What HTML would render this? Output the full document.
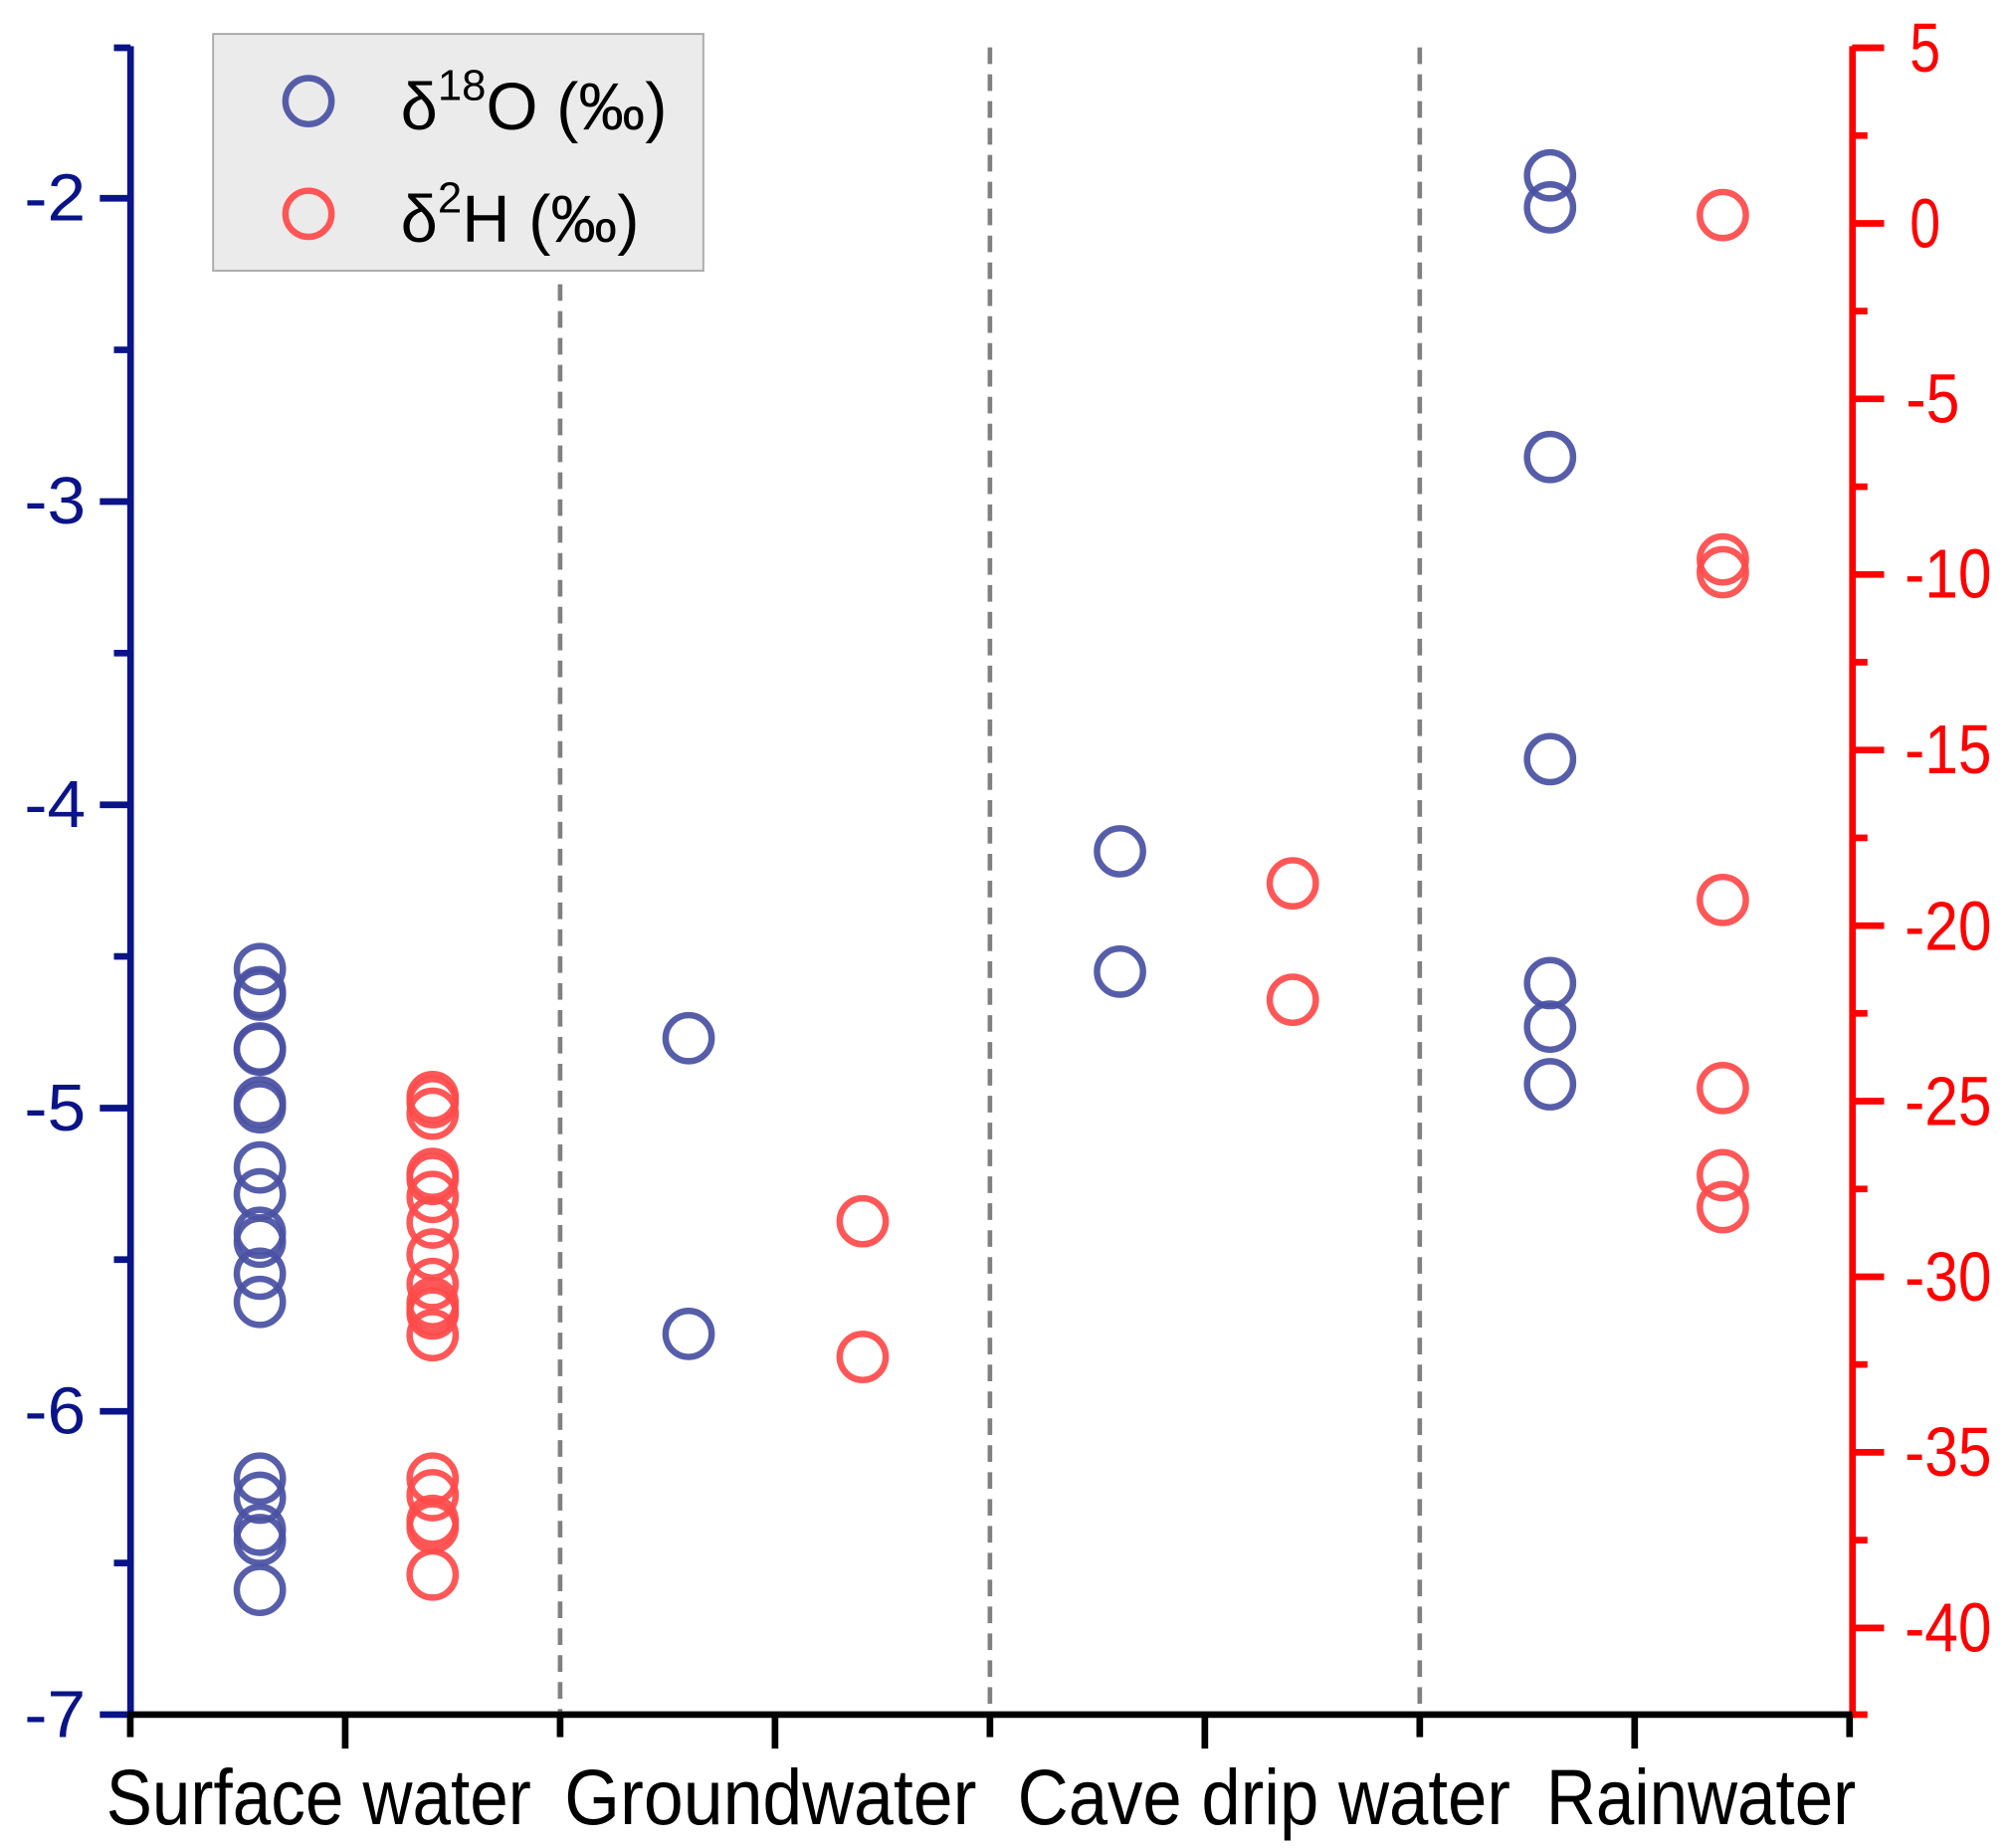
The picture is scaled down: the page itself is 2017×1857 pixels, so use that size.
<!DOCTYPE html>
<html><head><meta charset="utf-8"><style>html,body{margin:0;padding:0;background:#fff}svg{display:block}</style></head>
<body>
<svg width="2017" height="1857" viewBox="0 0 1568 1443.6" xmlns="http://www.w3.org/2000/svg" font-family="Liberation Sans, Arial, sans-serif">
<rect width="1568" height="1443.6" fill="#fff"/>
<g stroke="#808080" stroke-width="3.6" stroke-dasharray="13,8">
<line x1="437.6" y1="222" x2="437.6" y2="1337"/>
<line x1="773.4" y1="37" x2="773.4" y2="1337"/>
<line x1="1109.2" y1="37" x2="1109.2" y2="1337"/>
</g>
<!-- left axis -->
<g stroke="#0a1488" stroke-width="5.2">
<line x1="102" y1="36" x2="102" y2="1342"/>
<line x1="78" y1="1339.4" x2="102" y2="1339.4"/><line x1="78" y1="1102.5" x2="102" y2="1102.5"/><line x1="78" y1="865.6" x2="102" y2="865.6"/><line x1="78" y1="628.7" x2="102" y2="628.7"/><line x1="78" y1="391.8" x2="102" y2="391.8"/><line x1="78" y1="154.9" x2="102" y2="154.9"/>
<line x1="89" y1="1221" x2="102" y2="1221"/><line x1="89" y1="984" x2="102" y2="984"/><line x1="89" y1="747.1" x2="102" y2="747.1"/><line x1="89" y1="510.2" x2="102" y2="510.2"/><line x1="89" y1="273.3" x2="102" y2="273.3"/><line x1="89" y1="37.3" x2="102" y2="37.3"/>
</g>
<g fill="#0a1488" font-size="52" text-anchor="end">
<text x="67" y="1357" textLength="48" lengthAdjust="spacingAndGlyphs">-7</text><text x="67" y="1120" textLength="48" lengthAdjust="spacingAndGlyphs">-6</text><text x="67" y="883" textLength="48" lengthAdjust="spacingAndGlyphs">-5</text><text x="67" y="646" textLength="48" lengthAdjust="spacingAndGlyphs">-4</text><text x="67" y="409" textLength="48" lengthAdjust="spacingAndGlyphs">-3</text><text x="67" y="172" textLength="48" lengthAdjust="spacingAndGlyphs">-2</text>
</g>
<!-- right axis -->
<g stroke="#ff0000" stroke-width="5.2">
<line x1="1447.3" y1="36" x2="1447.3" y2="1342"/>
<line x1="1447" y1="37.3" x2="1472" y2="37.3"/><line x1="1447" y1="174.5" x2="1472" y2="174.5"/><line x1="1447" y1="311.6" x2="1472" y2="311.6"/><line x1="1447" y1="448.8" x2="1472" y2="448.8"/><line x1="1447" y1="585.9" x2="1472" y2="585.9"/><line x1="1447" y1="723.1" x2="1472" y2="723.1"/><line x1="1447" y1="860.2" x2="1472" y2="860.2"/><line x1="1447" y1="997.4" x2="1472" y2="997.4"/><line x1="1447" y1="1134.5" x2="1472" y2="1134.5"/><line x1="1447" y1="1271.7" x2="1472" y2="1271.7"/>
<line x1="1447" y1="105.9" x2="1459" y2="105.9"/><line x1="1447" y1="243" x2="1459" y2="243"/><line x1="1447" y1="380.2" x2="1459" y2="380.2"/><line x1="1447" y1="517.3" x2="1459" y2="517.3"/><line x1="1447" y1="654.5" x2="1459" y2="654.5"/><line x1="1447" y1="791.6" x2="1459" y2="791.6"/><line x1="1447" y1="928.8" x2="1459" y2="928.8"/><line x1="1447" y1="1065.9" x2="1459" y2="1065.9"/><line x1="1447" y1="1203.1" x2="1459" y2="1203.1"/><line x1="1447" y1="1339.4" x2="1459" y2="1339.4"/>
</g>
<g fill="#ff0000" font-size="54">
<text x="1492" y="56" textLength="24" lengthAdjust="spacingAndGlyphs">5</text>
<text x="1492" y="193" textLength="24" lengthAdjust="spacingAndGlyphs">0</text>
<text x="1489" y="330" textLength="42" lengthAdjust="spacingAndGlyphs">-5</text>
<text x="1488" y="467" textLength="68" lengthAdjust="spacingAndGlyphs">-10</text>
<text x="1488" y="604" textLength="68" lengthAdjust="spacingAndGlyphs">-15</text>
<text x="1488" y="742" textLength="68" lengthAdjust="spacingAndGlyphs">-20</text>
<text x="1488" y="879" textLength="68" lengthAdjust="spacingAndGlyphs">-25</text>
<text x="1488" y="1016" textLength="68" lengthAdjust="spacingAndGlyphs">-30</text>
<text x="1488" y="1153" textLength="68" lengthAdjust="spacingAndGlyphs">-35</text>
<text x="1488" y="1290" textLength="68" lengthAdjust="spacingAndGlyphs">-40</text>
</g>
<!-- bottom axis -->
<g stroke="#000" stroke-width="5.2">
<line x1="100" y1="1339.4" x2="1447" y2="1339.4"/>
<line x1="101.8" y1="1339" x2="101.8" y2="1357"/><line x1="437.6" y1="1339" x2="437.6" y2="1357"/><line x1="773.4" y1="1339" x2="773.4" y2="1357"/><line x1="1109.2" y1="1339" x2="1109.2" y2="1357"/><line x1="1445" y1="1339" x2="1445" y2="1357"/>
<line x1="269.7" y1="1339" x2="269.7" y2="1366"/><line x1="605.5" y1="1339" x2="605.5" y2="1366"/><line x1="941.3" y1="1339" x2="941.3" y2="1366"/><line x1="1277.1" y1="1339" x2="1277.1" y2="1366"/>
</g>
<g fill="#000" font-size="61">
<text x="83" y="1425" textLength="332" lengthAdjust="spacingAndGlyphs">Surface water</text>
<text x="441" y="1425" textLength="322" lengthAdjust="spacingAndGlyphs">Groundwater</text>
<text x="795" y="1425" textLength="385" lengthAdjust="spacingAndGlyphs">Cave drip water</text>
<text x="1208" y="1425" textLength="242" lengthAdjust="spacingAndGlyphs">Rainwater</text>
</g>
<!-- data -->
<g fill="none" stroke="#4a52a2" stroke-opacity="0.93" stroke-width="5">
<circle cx="203" cy="757" r="18"/><circle cx="203" cy="775" r="18"/><circle cx="203" cy="777" r="18"/><circle cx="203" cy="819" r="18"/><circle cx="203" cy="820" r="18"/><circle cx="203" cy="861" r="18"/><circle cx="203" cy="865" r="18"/><circle cx="203" cy="912" r="18"/><circle cx="203" cy="933" r="18"/><circle cx="203" cy="963" r="18"/><circle cx="203" cy="970" r="18"/><circle cx="203" cy="995" r="18"/><circle cx="203" cy="1017" r="18"/><circle cx="203" cy="1155" r="18"/><circle cx="203" cy="1170" r="18"/><circle cx="203" cy="1195" r="18"/><circle cx="203" cy="1203" r="18"/><circle cx="203" cy="1242" r="18"/>
<circle cx="538" cy="811" r="18"/><circle cx="538" cy="1042" r="18"/>
<circle cx="875" cy="665" r="18"/><circle cx="875" cy="759" r="18"/>
<circle cx="1211" cy="137" r="18"/><circle cx="1211" cy="162" r="18"/><circle cx="1211" cy="357" r="18"/><circle cx="1211" cy="593" r="18"/><circle cx="1211" cy="768" r="18"/><circle cx="1211" cy="802" r="18"/><circle cx="1211" cy="847" r="18"/>
</g>
<g fill="none" stroke="#ff4a4a" stroke-opacity="0.93" stroke-width="5">
<circle cx="338" cy="857" r="18"/><circle cx="338" cy="861" r="18"/><circle cx="338" cy="870" r="18"/><circle cx="338" cy="917" r="18"/><circle cx="338" cy="921" r="18"/><circle cx="338" cy="935" r="18"/><circle cx="338" cy="955" r="18"/><circle cx="338" cy="980" r="18"/><circle cx="338" cy="1003" r="18"/><circle cx="338" cy="1018" r="18"/><circle cx="338" cy="1023" r="18"/><circle cx="338" cy="1026" r="18"/><circle cx="338" cy="1043" r="18"/><circle cx="338" cy="1155" r="18"/><circle cx="338" cy="1168" r="18"/><circle cx="338" cy="1188" r="18"/><circle cx="338" cy="1193" r="18"/><circle cx="338" cy="1230" r="18"/>
<circle cx="674" cy="954" r="18"/><circle cx="674" cy="1060" r="18"/>
<circle cx="1010" cy="690" r="18"/><circle cx="1010" cy="781" r="18"/>
<circle cx="1346" cy="168" r="18"/><circle cx="1346" cy="437" r="18"/><circle cx="1346" cy="447" r="18"/><circle cx="1346" cy="703" r="18"/><circle cx="1346" cy="850" r="18"/><circle cx="1346" cy="918" r="18"/><circle cx="1346" cy="943" r="18"/>
</g>
<!-- legend -->
<rect x="166.5" y="26.5" width="383" height="185" fill="#ebebeb" stroke="#aaaaaa" stroke-width="1.5"/>
<circle cx="241" cy="79" r="18" fill="none" stroke="#4a52a2" stroke-opacity="0.93" stroke-width="5"/>
<circle cx="241" cy="167" r="18" fill="none" stroke="#ff4a4a" stroke-opacity="0.93" stroke-width="5"/>
<g fill="#000" font-size="52">
<text x="313" y="101">δ<tspan font-size="34" dy="-23">18</tspan><tspan dy="23">O (‰)</tspan></text>
<text x="313" y="189">δ<tspan font-size="34" dy="-23">2</tspan><tspan dy="23">H (‰)</tspan></text>
</g>
</svg>
</body></html>
